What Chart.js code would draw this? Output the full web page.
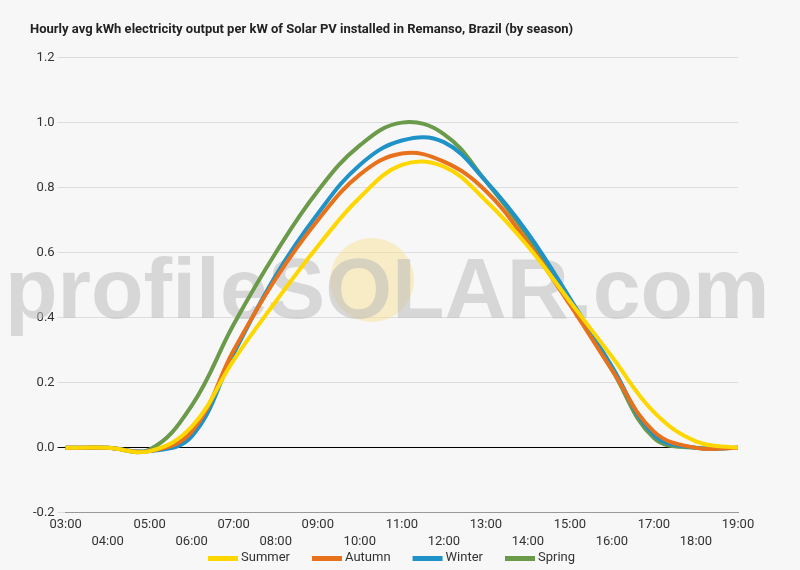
<!DOCTYPE html><html><head><script src="https://cdn.jsdelivr.net/npm/chart.js@4"></script>
<style>body{margin:0;background:#f7f7f7}#w{width:800px;height:570px}</style></head><body><div id="w"><canvas id="c"></canvas></div>
<script>
const hours=['03:00','04:00','05:00','06:00','07:00','08:00','09:00','10:00','11:00','12:00','13:00','14:00','15:00','16:00','17:00','18:00','19:00'];
const summer=[0,0,-0.01,0.065,0.27,0.45,0.62,0.77,0.87,0.865,0.76,0.62,0.45,0.28,0.11,0.02,0];
const autumn=[0,0,-0.01,0.05,0.30,0.52,0.70,0.84,0.905,0.88,0.79,0.63,0.44,0.24,0.05,0,0];
const winter=[0,0,-0.01,0.035,0.29,0.53,0.72,0.87,0.945,0.94,0.82,0.66,0.46,0.25,0.04,0,0];
const spring=[0,0,-0.005,0.13,0.38,0.60,0.79,0.93,1.0,0.965,0.82,0.65,0.45,0.24,0.03,0,0];
const wm={id:'wm',beforeDatasetsDraw(ch){const x=ch.ctx;x.save();x.fillStyle='rgba(250,225,150,0.5)';x.beginPath();x.arc(372,280,42,0,7);x.fill();x.font='bold 86px "Liberation Sans"';x.fillStyle='rgba(190,190,190,0.55)';x.textBaseline='middle';x.fillText('profileSOLAR.com',5,294);x.restore();},
afterDraw(ch){const x=ch.ctx;x.save();x.font='13px Roboto';x.textBaseline='middle';let px=208;ch.data.datasets.forEach(d=>{x.fillStyle=d.borderColor;x.fillRect(px,556,30,5);x.fillStyle='#333';x.fillText(d.label,px+33,558);px+=33+x.measureText(d.label).width+22;});x.restore();}};
const ds=(l,d,c)=>({label:l,data:d,borderColor:c,backgroundColor:c,borderWidth:4,pointRadius:0,tension:0.4});
new Chart(document.getElementById('c'),{type:'line',plugins:[wm],data:{labels:hours,datasets:[ds('Summer',summer,'#ffd700'),ds('Autumn',autumn,'#e8711c'),ds('Winter',winter,'#1f93c8'),ds('Spring',spring,'#6a9a4a')]},
options:{responsive:true,maintainAspectRatio:false,animation:false,layout:{padding:{left:30,right:62,top:10,bottom:16}},
plugins:{legend:{display:false},title:{display:true,text:'Hourly avg kWh electricity output per kW of Solar PV installed in Remanso, Brazil (by season)',align:'start',font:{family:'Roboto',size:13,weight:'bold'},color:'#222',padding:{top:12,bottom:20}}},
scales:{x:{offset:false,grid:{display:false,drawTicks:false,tickLength:0},border:{color:'#999'},ticks:{autoSkip:false,maxRotation:0,padding:3,font:{family:'Roboto',size:13,lineHeight:1.35},color:'#333',callback:(v,i)=>i%2?['',hours[i]]:hours[i]}},
y:{min:-0.2,max:1.2,ticks:{stepSize:0.2,font:{family:'Roboto',size:13},color:'#333',callback:v=>(Math.abs(v)<1e-9?0:v).toFixed(1)},border:{display:false},grid:{color:c=>Math.abs(c.tick.value)<1e-9?'#000':'#ddd'}}}}});
</script></body></html>
